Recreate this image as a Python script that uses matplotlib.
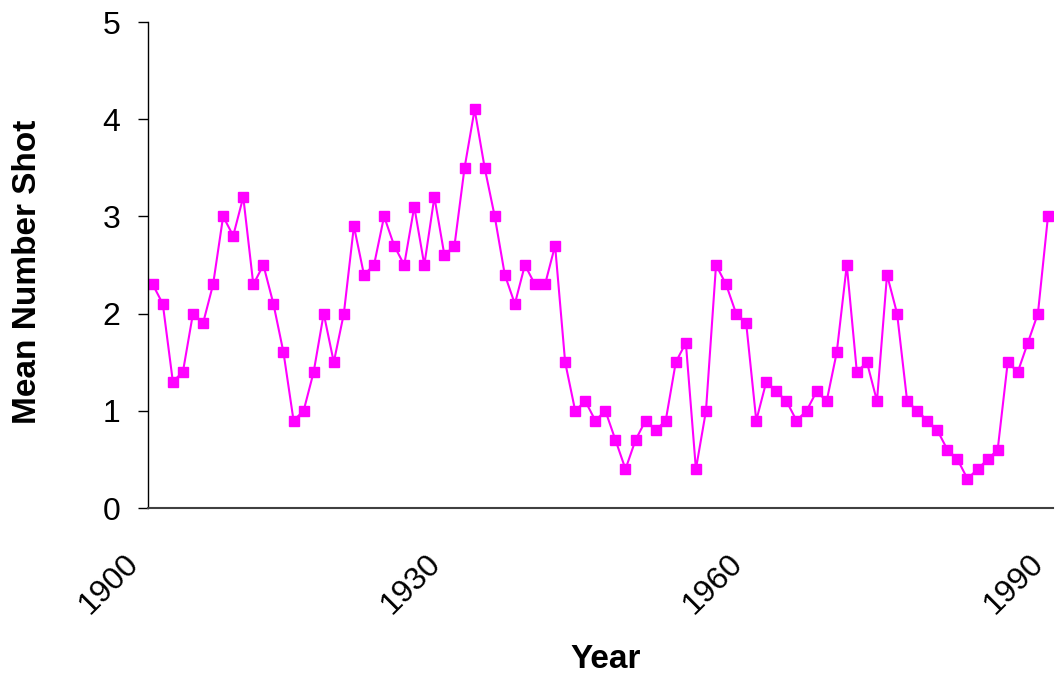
import matplotlib
matplotlib.use('Agg')
import matplotlib.pyplot as plt
import matplotlib.transforms as mtransforms
import numpy as np

plt.rcParams['font.family'] = ['Liberation Sans', 'DejaVu Sans']

# Data
years = list(range(1900, 1990))
mean_shot = [2.3, 2.1, 1.3, 1.4, 2.0, 1.9, 2.3, 3.0, 2.8, 3.2,
             2.3, 2.5, 2.1, 1.6, 0.9, 1.0, 1.4, 2.0, 1.5, 2.0,
             2.9, 2.4, 2.5, 3.0, 2.7, 2.5, 3.1, 2.5, 3.2, 2.6,
             2.7, 3.5, 4.1, 3.5, 3.0, 2.4, 2.1, 2.5, 2.3, 2.3,
             2.7, 1.5, 1.0, 1.1, 0.9, 1.0, 0.7, 0.4, 0.7, 0.9,
             0.8, 0.9, 1.5, 1.7, 0.4, 1.0, 2.5, 2.3, 2.0, 1.9,
             0.9, 1.3, 1.2, 1.1, 0.9, 1.0, 1.2, 1.1, 1.6, 2.5,
             1.4, 1.5, 1.1, 2.4, 2.0, 1.1, 1.0, 0.9, 0.8, 0.6,
             0.5, 0.3, 0.4, 0.5, 0.6, 1.5, 1.4, 1.7, 2.0, 3.0]
year_labels = [1900, 1930, 1960, 1990]
y_ticks = [0, 1, 2, 3, 4, 5]

fig = plt.figure(figsize=(10.56, 6.81), dpi=100)
ax = fig.add_axes([148 / 1056, 1 - 508 / 681, 905 / 1056, 486 / 681])

ax.plot(years, mean_shot, color='#FF00FF', linewidth=1.5,
        marker='s', markersize=7.5, markeredgecolor='#FF00FF')

ax.set_xlim(1899.53, 1989.5)
ax.set_ylim(0, 5)
ax.set_yticks(y_ticks)
ax.tick_params(axis='y', direction='out', length=7, width=1, labelsize=23, pad=13)
ax.set_xticks([])

for side in ['top', 'right']:
    ax.spines[side].set_visible(False)
ax.spines['left'].set_linewidth(1)
ax.spines['bottom'].set_linewidth(1.5)
ax.spines['bottom'].set_color('#404040')

# category-style year labels, rotated like the original
trans = mtransforms.blended_transform_factory(ax.transData, ax.transAxes)
offset = mtransforms.ScaledTranslation(-21 / 72, -29 / 72, fig.dpi_scale_trans)
for yr in year_labels:
    ax.text(yr, 0, str(yr), transform=trans + offset, rotation=45,
            ha='right', va='top', rotation_mode='anchor', fontsize=23,
            clip_on=False)

fig.text(28 / 1056, 1 - 272 / 681, 'Mean Number Shot', rotation=90,
         fontsize=24, fontweight='bold', ha='center', va='center')
fig.text(606 / 1056, 1 - 668 / 681, 'Year', fontsize=24, fontweight='bold',
         ha='center', va='baseline')

fig.savefig('out.png', dpi=100)
